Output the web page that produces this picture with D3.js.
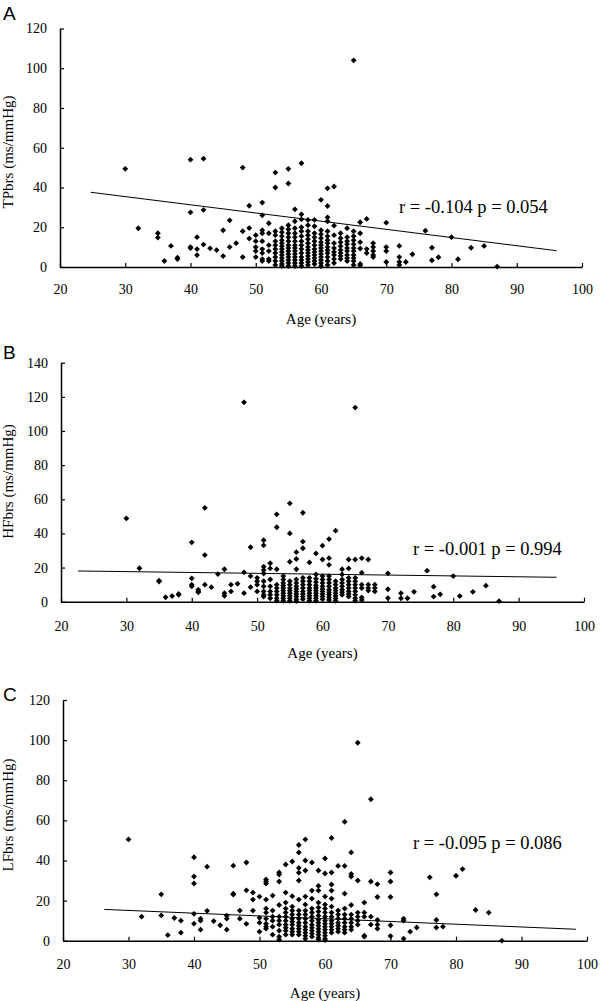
<!DOCTYPE html>
<html>
<head>
<meta charset="utf-8">
<script src="https://cdn.jsdelivr.net/npm/d3@7"></script>
<style>
  html, body { margin: 0; padding: 0; background: #fff; }
  svg { display: block; }
</style>
</head>
<body>
<svg id="chart" width="600" height="1001"></svg>
<script>
// ---------------- DATA ----------------
const xTicks = [20, 30, 40, 50, 60, 70, 80, 90, 100];
const tpYTicks = [0, 20, 40, 60, 80, 100, 120];
const hfYTicks = [0, 20, 40, 60, 80, 100, 120, 140];
const lfYTicks = [0, 20, 40, 60, 80, 100, 120];

const panelLetters = ["A", "B", "C"];
const yLabels = ["TPbrs (ms/mmHg)", "HFbrs (ms/mmHg)", "LFbrs (ms/mmHg)"];
const xLabel = "Age (years)";
const statTexts = ["r = -0.104 p = 0.054", "r = -0.001 p = 0.994", "r = -0.095 p = 0.086"];

// [age, value] per subject
const tpData = [
  [30,49.4],[32,19.5],[35,17],[35,14.8],[36,3],[37,10.6],[38,4.7],[38,4],
  [40,54],[40,27.5],[40,10],[40,9.5],[41,15],[41,9],[41,6],[42,54.5],[42,28.7],[42,11.3],
  [43,9.4],[44,8.5],[45,18.5],[45,5.5],[46,23.5],[46,10],[47,12],[48,50],[48,18],[48,5],
  [49,30.8],[49,19.6],[49,14.3],
  [50,16],[50,13],[50,10],[50,8],[50,5],
  [51,32.4],[51,26],[51,18.5],[51,17],[51,13],[51,9],[51,7],[51,4],[51,3],
  [52,22],[52,17],[52,11],[52,8],[52,4],[52,3],
  [53,47.5],[53,40],[53,18],[53,16],[53,13],[53,11],[53,9],[53,7],[53,5],[53,3],[53,1],
  [54,19.5],[54,17.5],[54,15.5],[54,13.5],[54,12],[54,10.5],[54,9],[54,7.5],[54,6],[54,4.5],[54,3],[54,1.5],[54,0.5],
  [55,49.4],[55,42],[55,21],[55,19],[55,17],[55,15],[55,13],[55,11],[55,9.5],[55,8],[55,6.5],[55,5],[55,3.5],[55,2],[55,0.5],
  [56,29],[56,23],[56,19.5],[56,17],[56,15],[56,13],[56,11],[56,9.5],[56,8],[56,6.5],[56,5],[56,3.5],[56,2],[56,0.5],
  [57,52.2],[57,26.5],[57,24],[57,20],[57,18],[57,15.5],[57,13],[57,11],[57,9],[57,7],[57,5],[57,3.5],[57,2],[57,0.5],
  [58,23.7],[58,21],[58,18],[58,16],[58,14],[58,12],[58,10],[58,8.5],[58,7],[58,5.5],[58,4],[58,2.5],[58,1],
  [59,23.7],[59,20.5],[59,17],[59,15],[59,13],[59,11],[59,9],[59,7.5],[59,6],[59,4.5],[59,3],[59,1.5],
  [60,33.8],[60,18.5],[60,16.5],[60,14.5],[60,12.5],[60,11],[60,9.5],[60,8],[60,6.5],[60,5],[60,3.5],[60,2],[60,0.5],
  [61,39.6],[61,30.7],[61,25],[61,23],[61,18],[61,15.5],[61,13.5],[61,12],[61,10],[61,8.5],[61,7],[61,5],[61,3],[61,1],
  [62,40.5],[62,20.8],[62,16],[62,12],[62,9.5],[62,7.5],[62,6],[62,4],[62,2],
  [63,17],[63,14.5],[63,12.5],[63,10.5],[63,8.5],[63,7],[63,5.5],[63,4],
  [64,19.5],[64,15],[64,13],[64,11.5],[64,9.5],[64,8],[64,6],[64,4.5],[64,3],
  [65,104],[65,18],[65,15.5],[65,13.5],[65,11.5],[65,9.5],[65,8],[65,6],[65,4.5],[65,3],[65,1],
  [66,22.5],[66,17],[66,12.5],[66,9.3],[66,1.5],[66,0.8],
  [67,24.2],[67,9],[67,7],[68,12],[68,10],[68,8],[68,6],[68,5],
  [70,22.3],[70,10],[70,8],[70,2.5],[72,10.6],[72,5],[72,2.5],[72,1],[73,2.5],[74,6.4],
  [76,18.3],[77,9.7],[77,3.4],[78,4.9],[80,15],[81,3.9],[83,9.7],[85,10.6],[87,0.2]
];

const hfData = [
  [30,48.8],[32,19.6],[35,12.3],[35,11.8],[36,2.6],[37,3.3],[38,4.5],[38,4],
  [40,34.8],[40,13.7],[40,10],[40,9],[41,7],[41,6],[41,5.5],[42,55],[42,27.3],[42,10],
  [43,8.5],[44,16.2],[45,19],[45,5],[45,3.5],[46,10],[46,6],[47,10.5],
  [48,116.8],[48,17.2],[48,5],[49,31.9],[49,15],[49,8.5],
  [50,14],[50,12],[50,10],[50,6],
  [51,36],[51,33],[51,20.5],[51,18.5],[51,16.5],[51,12],[51,9],[51,6],[51,4],[51,3],
  [52,22.5],[52,19.5],[52,13],[52,9],[52,6],[52,4],[52,2],
  [53,51.2],[53,43.6],[53,19],[53,10],[53,8],[53,6],[53,4],[53,2],[53,0.5],
  [54,15],[54,13],[54,11],[54,9.5],[54,8],[54,6.5],[54,5],[54,3.5],[54,2],[54,0.5],
  [55,57.6],[55,40],[55,23.4],[55,12],[55,10],[55,8],[55,6.5],[55,5],[55,3.5],[55,2],[55,0.5],
  [56,29],[56,25],[56,19],[56,13],[56,11],[56,9],[56,7.5],[56,6],[56,4.5],[56,3],[56,1.5],[56,0.3],
  [57,52.1],[57,35.2],[57,31.3],[57,14],[57,12],[57,10],[57,8],[57,6],[57,4.5],[57,3],[57,1.5],
  [58,23],[58,14],[58,12],[58,10],[58,8],[58,6.5],[58,5],[58,3.5],[58,2],[58,0.5],
  [59,28.3],[59,16],[59,13.5],[59,11.5],[59,9.5],[59,8],[59,6.5],[59,5],[59,3.5],[59,2],[59,0.5],
  [60,32.8],[60,24.7],[60,15],[60,13],[60,11],[60,9],[60,7.5],[60,6],[60,4.5],[60,3],[60,1.5],
  [61,36.7],[61,25.5],[61,21.6],[61,15],[61,13],[61,11],[61,9],[61,7],[61,5.5],[61,4],[61,2.5],[61,1],
  [62,41.6],[62,12],[62,10],[62,8],[62,6.5],[62,5],[62,3.5],[62,2],[62,0.5],
  [63,19],[63,16],[63,13],[63,11],[63,9],[63,7],[63,5.5],[63,4],
  [64,24.7],[64,19.5],[64,14],[64,12],[64,10],[64,8],[64,6],[64,4.5],[64,3],
  [65,113.7],[65,24.7],[65,14],[65,12],[65,10],[65,8],[65,6],[65,4],[65,2],[65,0.5],
  [66,25.5],[66,17],[66,10],[66,8],[66,2.5],[66,1],
  [67,24.7],[67,10],[67,8],[67,6.5],[68,10],[68,8],[68,6],
  [70,16.6],[70,7.3],[70,2.1],[72,5],[72,2],[73,2],[74,5.8],[76,18.2],[77,8.8],[77,3],
  [78,4.3],[80,15],[81,3.3],[83,5.8],[85,9.4],[87,0.3]
];

const lfData = [
  [30,50.5],[32,12],[35,23.1],[35,12.6],[36,2.8],[37,11.3],[38,10],[38,4],
  [40,41.6],[40,32],[40,28.5],[40,13.4],[40,8.5],[41,11],[41,10],[41,5.5],[42,36.9],[42,14.9],
  [43,9.8],[44,7.7],[45,12.5],[45,11],[45,5.5],[46,37.4],[46,23.4],[46,23],[47,15],[47,11],
  [48,39],[48,25.1],[48,8.4],[49,24],[49,20.5],[49,15],
  [50,22],[50,11.4],[50,9],[50,4.5],
  [51,30.5],[51,29.5],[51,28.5],[51,20.5],[51,16],[51,14],[51,11],[51,8.5],[51,7],[51,6],
  [52,22.5],[52,15],[52,12],[52,10],[52,7],[52,3],
  [53,34],[53,33],[53,29.5],[53,17.8],[53,12],[53,10],[53,8],[53,5],[53,2],[53,0.5],
  [54,38],[54,24],[54,19],[54,16],[54,14],[54,12],[54,10],[54,8],[54,6.5],[54,5],[54,3],
  [55,39.5],[55,22.2],[55,17],[55,15],[55,13],[55,11],[55,9.5],[55,8],[55,6],[55,4.5],[55,3],
  [56,47.7],[56,44],[56,36.3],[56,33.9],[56,30],[56,20.5],[56,15],[56,13],[56,11],[56,9],[56,7.5],[56,6],[56,4.5],[56,3],
  [57,50.5],[57,40],[57,35],[57,22],[57,18],[57,15],[57,13],[57,11],[57,9],[57,7],[57,5.5],[57,4],[57,2.5],[57,1],
  [58,39],[58,25],[58,21],[58,16],[58,14],[58,12],[58,10],[58,8],[58,6.5],[58,5],[58,3.5],[58,2],
  [59,35],[59,27.3],[59,25],[59,19],[59,16.5],[59,14.5],[59,12.5],[59,10.5],[59,9],[59,7.5],[59,6],[59,4.5],[59,3],[59,1.5],[59,0.5],
  [60,41],[60,33.5],[60,22],[60,18],[60,16],[60,14],[60,12],[60,10],[60,8.5],[60,7],[60,5.5],[60,4],[60,2.5],[60,1],[60,0.3],
  [61,51.2],[61,34],[61,28],[61,25],[61,21],[61,17],[61,14],[61,12],[61,10],[61,8.5],[61,7],[61,5.5],[61,4],
  [62,37.3],[62,15],[62,13],[62,11],[62,9],[62,7.5],[62,6],[62,4.5],
  [63,59.3],[63,37.3],[63,23.5],[63,16],[63,13],[63,11],[63,9],[63,7],[63,5.5],[63,4],
  [64,44],[64,33.3],[64,32],[64,17.8],[64,13],[64,11],[64,9],[64,7],[64,5.5],
  [65,98.7],[65,30],[65,14],[65,12],[65,10],[65,8],
  [66,19],[66,14],[66,12],[66,2.5],[66,2],
  [67,70.5],[67,29.5],[67,12],[67,8],
  [68,28.2],[68,21.8],[68,10.3],[68,8],[68,6],
  [70,34],[70,29.5],[70,21.8],[70,7.7],[70,2.3],[72,11],[72,10],[72,1],[73,4.5],[74,6.6],
  [76,31.6],[77,23.1],[77,10.3],[77,6.6],[78,7],[80,32.4],[81,35.7],[83,15.3],[85,14],[87,0]
];

// fitted regression line end points [age, value]
const tpFit = [[24.7, 37.6], [96.1, 8.2]];
const hfFit = [[22.6, 18.0], [95.8, 14.3]];
const lfFit = [[26.3, 15.6], [98.3, 5.7]];

// ---------------- LAYOUT ----------------
const panels = [
  { data: tpData, fit: tpFit, yTicks: tpYTicks, yMax: 120,
    x0: 60, x1: 582, yBottom: 267, yTop: 28.5, xPad: 17,
    letterY: 20, labelYc: 152, ageY: 323.5, statX: 399, statY: 213 },
  { data: hfData, fit: hfFit, yTicks: hfYTicks, yMax: 140,
    x0: 61, x1: 584, yBottom: 601.7, yTop: 362.7, xPad: 19,
    letterY: 359, labelYc: 481.5, ageY: 657.5, statX: 413, statY: 555 },
  { data: lfData, fit: lfFit, yTicks: lfYTicks, yMax: 120,
    x0: 63, x1: 587, yBottom: 940.7, yTop: 700, xPad: 18,
    letterY: 701, labelYc: 815, ageY: 997.5, statX: 413, statY: 849 }
];

const svg = d3.select("#chart");
const serif = "'Liberation Serif', 'Times New Roman', serif";
const sans = "'Liberation Sans', Arial, sans-serif";
const marker = d3.symbol().type(d3.symbolSquare).size(17)();

panels.forEach((p, i) => {
  const x = d3.scaleLinear().domain([20, 100]).range([p.x0, p.x1]);
  const y = d3.scaleLinear().domain([0, p.yMax]).range([p.yBottom, p.yTop]);
  const g = svg.append("g");

  // points
  g.append("g").selectAll("path").data(p.data).join("path")
    .attr("d", marker)
    .attr("transform", d => `translate(${x(d[0])},${y(d[1])}) rotate(45)`)
    .attr("fill", "#000");

  // regression line
  g.append("line")
    .attr("x1", x(p.fit[0][0])).attr("y1", y(p.fit[0][1]))
    .attr("x2", x(p.fit[1][0])).attr("y2", y(p.fit[1][1]))
    .attr("stroke", "#000").attr("stroke-width", 1);

  // x axis
  const xa = g.append("g").attr("transform", `translate(0,${p.yBottom})`)
    .call(d3.axisBottom(x).tickValues(xTicks).tickSize(-4).tickSizeOuter(0).tickPadding(p.xPad));
  // y axis
  const ya = g.append("g").attr("transform", `translate(${p.x0},0)`)
    .call(d3.axisLeft(y).tickValues(p.yTicks).tickSize(-4).tickSizeOuter(0).tickPadding(13));

  [xa, ya].forEach(a => {
    a.attr("font-family", serif).attr("font-size", 14);
    a.select(".domain").attr("stroke", "#000").attr("stroke-width", 1.5);
    a.selectAll(".tick line").attr("stroke", "#000").attr("stroke-width", 1.2);
    a.selectAll(".tick text").attr("fill", "#000");
  });

  // panel letter
  svg.append("text").attr("x", 3).attr("y", p.letterY)
    .attr("font-family", sans).attr("font-size", 19).text(panelLetters[i]);

  // y label
  svg.append("text")
    .attr("transform", `translate(13,${p.labelYc}) rotate(-90)`)
    .attr("text-anchor", "middle")
    .attr("font-family", serif).attr("font-size", 15)
    .text(yLabels[i]);

  // x label
  svg.append("text")
    .attr("x", (p.x0 + p.x1) / 2).attr("y", p.ageY)
    .attr("text-anchor", "middle")
    .attr("font-family", serif).attr("font-size", 15)
    .text(xLabel);

  // stats text
  svg.append("text")
    .attr("x", p.statX).attr("y", p.statY)
    .attr("font-family", serif).attr("font-size", 18.5)
    .text(statTexts[i]);
});
</script>
</body>
</html>
